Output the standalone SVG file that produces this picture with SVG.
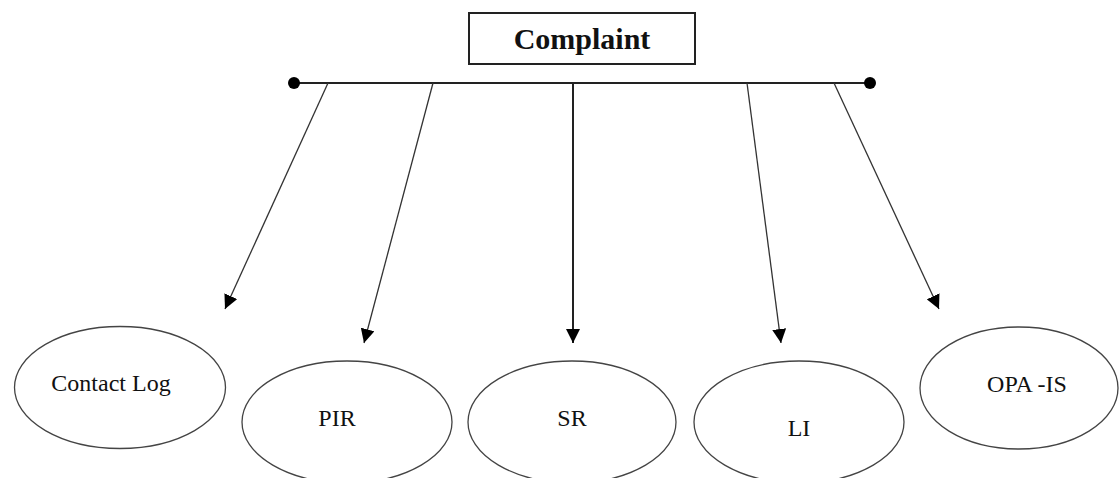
<svg xmlns="http://www.w3.org/2000/svg" width="1119" height="478" viewBox="0 0 1119 478">
<style>
.node { fill: #fff; stroke: #444; stroke-width: 1.3; }
.lbl { font-family: 'Liberation Serif', 'DejaVu Serif', serif; font-size: 24px; fill: #111; text-anchor: middle; }
.title { font-family: 'Liberation Serif', 'DejaVu Serif', serif; font-size: 30px; font-weight: bold; fill: #111; text-anchor: middle; }
.conn { stroke: #333; stroke-width: 1.3; fill: none; }
.bar { stroke: #222; stroke-width: 2; fill: none; }
</style>
<defs>
<marker id="arr" viewBox="0 0 10 10" refX="10" refY="5" markerWidth="14" markerHeight="14" markerUnits="userSpaceOnUse" orient="auto">
<path d="M0,0 L10,5 L0,10 Z" fill="#000"/>
</marker>
</defs>
<rect width="1119" height="478" fill="#fff"/>
<g id="complaint">
<rect x="469" y="13" width="226" height="51" fill="#fff" stroke="#222" stroke-width="2"/>
<text class="title" x="582" y="49" font-family="Liberation Serif, DejaVu Serif, serif">Complaint</text>
</g>
<g id="connectors">
<line class="bar" x1="294" y1="83" x2="870" y2="83"/>
<circle cx="294" cy="83" r="6" fill="#000"/>
<circle cx="870" cy="83" r="6" fill="#000"/>
<line class="conn" x1="328" y1="83" x2="225" y2="309" marker-end="url(#arr)"/>
<line class="conn" x1="433" y1="83" x2="364" y2="343" marker-end="url(#arr)"/>
<line class="bar" x1="573" y1="83" x2="573" y2="343" marker-end="url(#arr)"/>
<line class="conn" x1="747" y1="83" x2="781" y2="343" marker-end="url(#arr)"/>
<line class="conn" x1="834" y1="83" x2="939" y2="309" marker-end="url(#arr)"/>
</g>
<g id="contact-log">
<ellipse class="node" cx="120" cy="387.5" rx="105.5" ry="61"/>
<text class="lbl" x="111" y="391" font-family="Liberation Serif, DejaVu Serif, serif">Contact Log</text>
</g>
<g id="pir">
<ellipse class="node" cx="347" cy="422" rx="105" ry="61"/>
<text class="lbl" x="337" y="426" font-family="Liberation Serif, DejaVu Serif, serif">PIR</text>
</g>
<g id="sr">
<ellipse class="node" cx="572" cy="422" rx="104" ry="61"/>
<text class="lbl" x="572" y="426" font-family="Liberation Serif, DejaVu Serif, serif">SR</text>
</g>
<g id="li">
<ellipse class="node" cx="799" cy="422" rx="105" ry="61"/>
<text class="lbl" x="799" y="436" font-family="Liberation Serif, DejaVu Serif, serif">LI</text>
</g>
<g id="opa-is">
<ellipse class="node" cx="1019" cy="388" rx="99" ry="61"/>
<text class="lbl" x="1027" y="392" font-family="Liberation Serif, DejaVu Serif, serif">OPA -IS</text>
</g>
</svg>
